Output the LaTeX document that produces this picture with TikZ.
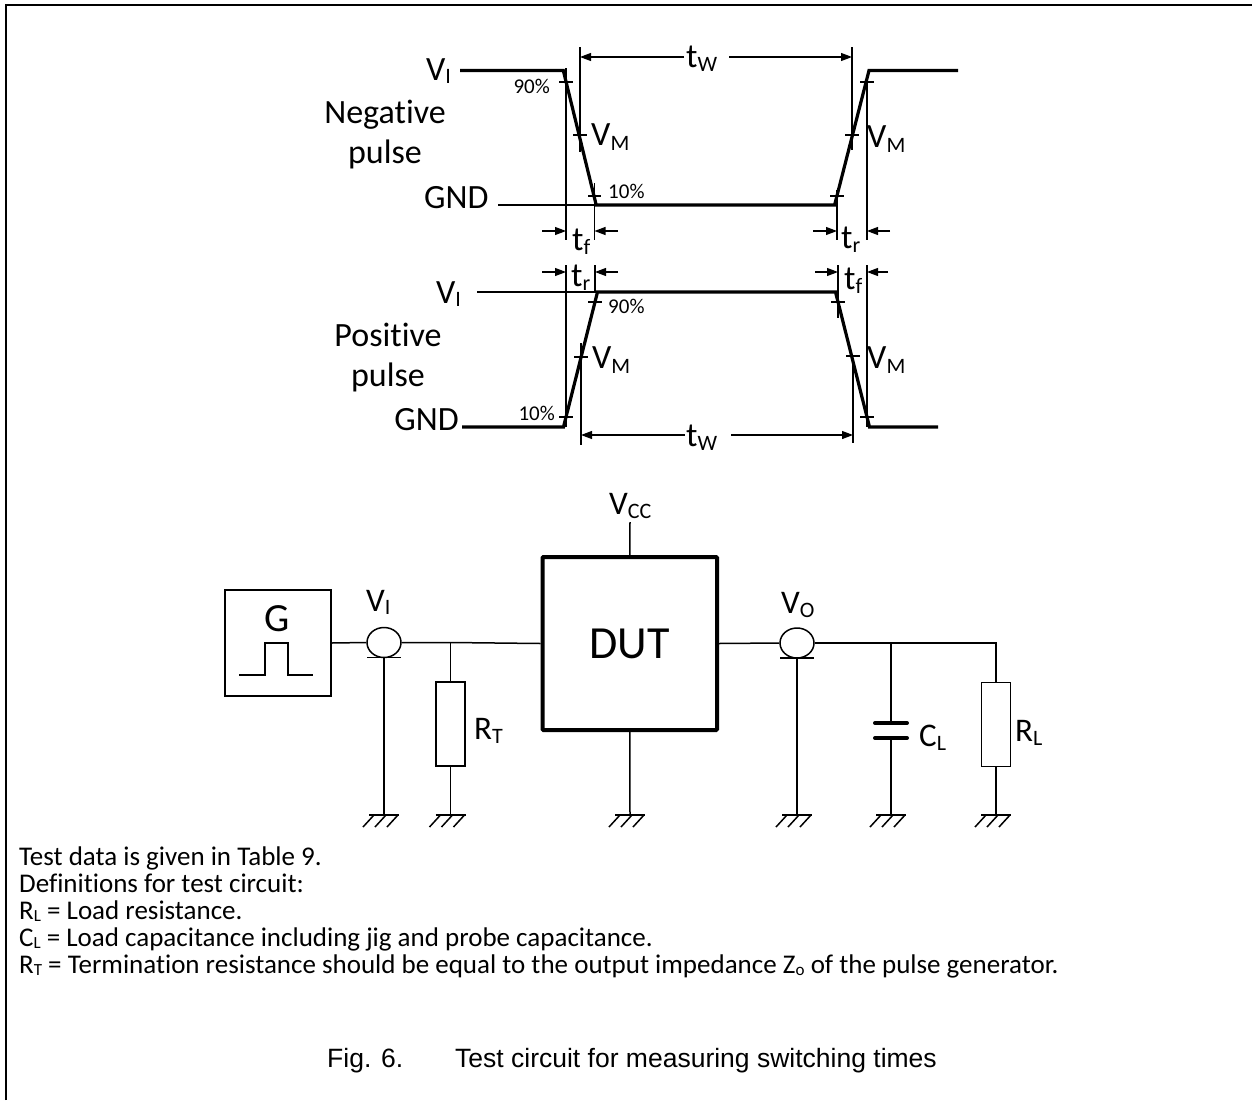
\documentclass[tikz,border=0pt]{standalone}
\usepackage{fontspec}
\setmainfont{Carlito}[Ligatures=NoCommon]
\newfontfamily\arialfont{Liberation Sans}
\usetikzlibrary{arrows.meta,shapes.geometric}
\newcommand{\fs}[1]{\fontsize{#1}{#1}\selectfont}
\newcommand{\wsub}[2][4]{\raisebox{-#1pt}{\fs{22}#2}}
\newcommand{\csub}[2][4]{\raisebox{-#1pt}{\fs{22}#2}}
\newcommand{\tsub}[1]{\raisebox{-2pt}{\fs{17}#1}}
\begin{document}
\begin{tikzpicture}[x=1pt,y=-1pt,
  wave/.style={line width=3.2pt, line join=miter},
  thinl/.style={line width=1.1pt},
  dim/.style={line width=1.1pt,-{Triangle[length=11pt,width=8pt]}},
  wire/.style={line width=1.5pt},
  lab/.style={inner sep=0pt, anchor=base west, font=\fs{34}},
  pct/.style={inner sep=0pt, font=\fs{21}},
  ctext/.style={inner sep=0pt, anchor=base west, font=\fs{33}},
  btext/.style={inner sep=0pt, anchor=base west, font=\fs{27}},
  probe/.style={draw, wire, ellipse, minimum width=34pt, minimum height=30pt, inner sep=0pt},
  res/.style={draw, wire, minimum width=29pt, minimum height=84pt, inner sep=0pt},
  gnd/.pic={\draw[wire] (-15,0)--(15,0);
            \draw[wire] (-10,0)--(-21,12) (2,0)--(-9,12) (14,0)--(3,12);}
]
\useasboundingbox (0,0) rectangle (1252,1100);
% frame
\draw[line width=2pt] (6,1100) -- (6,5) -- (1252,5);

% ===== negative pulse =====
\draw[wave] (460,70.5)--(563.3,70.5)--(596.2,205)--(834.6,205)--(869,70.5)--(958,70.5);
\draw[thinl] (498,205)--(596.2,205);
\draw[thinl] (566,68)--(566,240);
\draw[thinl] (580,47)--(580,152);
\draw[thinl] (594.5,183)--(594.5,240);
\draw[thinl] (837,190)--(837,240);
\draw[thinl] (852,47)--(852,150);
\draw[thinl] (867,80)--(867,240);
\draw[thinl] (559,82)--(573,82) (573,135)--(587,135) (588,196)--(601,196);
\draw[thinl] (860,82)--(874,82) (845,135)--(859,135) (830,196)--(844,196);
\draw[dim] (542,231)--(566,231);
\draw[dim] (618,231)--(594.5,231);
\draw[dim] (813,231)--(837,231);
\draw[dim] (890,231)--(867,231);
\draw[dim] (684,57)--(580,57);
\draw[dim] (729,57)--(852,57);
\node[lab] (nvi) at (426,80) {V\wsub[3]{I}};
\node[inner sep=0pt, anchor=base, font=\fs{34}] (nneg) at (385,123) {Negative};
\node[inner sep=0pt, anchor=base, font=\fs{34}] (npul) at (385,163) {pulse};
\node[lab] (ngnd) at (424,208) {GND};
\node[pct, anchor=base east] (n90) at (550,93) {90\%};
\node[pct, anchor=base west] (n10) at (608,198) {10\%};
\node[lab] (nvm1) at (591,145) {V\wsub[5]{M}};
\node[lab] (nvm2) at (867,147) {V\wsub[5]{M}};
\node[lab] (ntw1) at (686,67) {t\wsub{W}};
\node[lab] (ntf1) at (572,250) {t\wsub{f}};
\node[lab] (ntr1) at (841,248) {t\wsub{r}};

% ===== positive pulse =====
\draw[wave] (462,427)--(563.5,427)--(597.5,292)--(835.5,292)--(869.5,427)--(938,427);
\draw[thinl] (477,292)--(597.5,292);
\draw[thinl] (566,265)--(566,427);
\draw[thinl] (595,265)--(595,292);
\draw[thinl] (581,343)--(581,445);
\draw[thinl] (838,265)--(838,318);
\draw[thinl] (853,363)--(853,443);
\draw[thinl] (867,265)--(867,427);
\draw[thinl] (559,417)--(573,417) (574,357)--(588,357) (588,302)--(602,302);
\draw[thinl] (831,302)--(845,302) (846,356)--(860,356) (860,417)--(874,417);
\draw[dim] (542,272)--(566,272);
\draw[dim] (618,272)--(595,272);
\draw[dim] (815,272)--(838,272);
\draw[dim] (888,272)--(867,272);
\draw[dim] (685,435)--(581,435);
\draw[dim] (731,435)--(853,435);
\node[lab] (pvi) at (436,303) {V\wsub[3]{I}};
\node[inner sep=0pt, anchor=base, font=\fs{34}] (ppos) at (388,346) {Positive};
\node[inner sep=0pt, anchor=base, font=\fs{34}] (ppul) at (388,386) {pulse};
\node[lab, anchor=base east] (pgnd) at (459,430) {GND};
\node[pct, anchor=base west] (p90) at (608,313) {90\%};
\node[pct, anchor=base east] (p10) at (555,420) {10\%};
\node[lab] (pvm1) at (592,368) {V\wsub[5]{M}};
\node[lab] (pvm2) at (867,368) {V\wsub[5]{M}};
\node[lab] (ptw) at (686,446) {t\wsub{W}};
\node[lab] (ptr) at (571,286) {t\wsub{r}};
\node[lab] (ptf) at (844,289) {t\wsub{f}};

% ===== circuit =====
\node[draw, wire, minimum width=106pt, minimum height=106pt, inner sep=0pt] (G) at (278,643) {};
\node[inner sep=0pt, anchor=base, font=\fs{40}] (Gt) at (277,631) {G};
\draw[wire] (239,675)--(265,675)--(265,643)--(288,643)--(288,675)--(313,675);

\node[draw, line width=4pt, minimum width=174.5pt, minimum height=173pt, inner sep=0pt,
      rounded corners=1pt, font=\fs{46}] (DUT) at (629.75,643.5) {DUT};

\node[probe] (PI) at (384,642.5) {};
\node[probe] (PO) at (797,643) {};
\coordinate (jT) at (450.5,642.5);
\coordinate (jC) at (891,643);
\coordinate (jL) at (996,643);
\node[res] (RT) at (450.5,724) {};
\node[res] (RL) at (996,724.5) {};
\coordinate (cTop) at (891,723);
\coordinate (cBot) at (891,738);
\coordinate (vcc) at (630,522);

\coordinate (g1) at (384,815);
\coordinate (g2) at (450.5,815);
\coordinate (g3) at (630,815);
\coordinate (g4) at (797,815);
\coordinate (g5) at (891,815);
\coordinate (g6) at (996,815);

\draw[wire] (G.east) -- (PI.west);
\draw[wire] (PI.east) -- (jT) -- (DUT.west);
\draw[wire] (jT) -- (RT.north);
\draw[wire] (RT.south) -- (g2);
\draw[wire] (367,657.5) -- (401,657.5);
\draw[wire] (PI.south) -- (g1);
\draw[wire] (DUT.north) -- (vcc);
\draw[wire] (DUT.south) -- (g3);
\draw[wire] (DUT.east) -- (PO.west);
\draw[wire] (PO.east) -- (jC) -- (jL) -- (RL.north);
\draw[wire] (RL.south) -- (g6);
\draw[wire] (780,658) -- (814,658);
\draw[wire] (PO.south) -- (g4);
\draw[wire] (jC) -- (cTop);
\draw[wire] (cBot) -- (g5);
\draw[line width=4pt, line cap=round] (875,723) -- (907,723) (875,738) -- (907,738);

\foreach \g in {g1,g2,g3,g4,g5,g6} \pic at (\g) {gnd};

\node[ctext] (lvi) at (366,611) {V\csub[3]{I}};
\node[ctext] (lrt) at (474,739) {R\csub{T}};
\node[ctext] (lvo) at (781,613) {V\csub{O}};
\node[ctext] (lcl) at (919,746) {C\csub{L}};
\node[ctext] (lrl) at (1015,741) {R\csub{L}};
\node[ctext] (lvcc) at (609,514) {V\csub{CC}};

% ===== text =====
\node[btext] (t1) at (19,865) {Test data is given in Table 9.};
\node[btext] (t2) at (19,892) {Definitions for test circuit:};
\node[btext] (t3) at (19,919) {R\tsub{L} = Load resistance.};
\node[btext] (t4) at (19,946) {C\tsub{L} = Load capacitance including jig and probe capacitance.};
\node[btext] (t5) at (19,973) {R\tsub{T} = Termination resistance should be equal to the output impedance Z\tsub{o} of the pulse generator.};
\node[inner sep=0pt, anchor=base west, font=\arialfont\fs{26.5}] (cap1) at (327,1067) {Fig. 6.};
\node[inner sep=0pt, anchor=base west, font=\arialfont\fs{26.5}] (cap2) at (455,1067) {Test circuit for measuring switching times};
\end{tikzpicture}
\end{document}
